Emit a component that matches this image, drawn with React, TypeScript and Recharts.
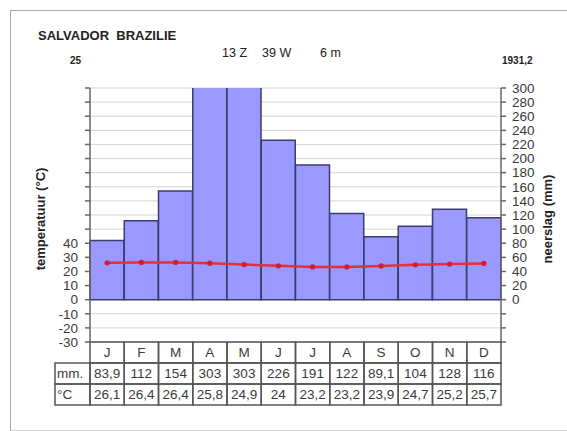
import React from "react";
import {
  ComposedChart,
  Bar,
  Line,
  XAxis,
  YAxis,
  CartesianGrid,
} from "recharts";

const months = ["J", "F", "M", "A", "M", "J", "J", "A", "S", "O", "N", "D"];
const precipitation = [83.9, 112, 154, 303, 303, 226, 191, 122, 89.1, 104, 128, 116];
const temperature = [26.1, 26.4, 26.4, 25.8, 24.9, 24, 23.2, 23.2, 23.9, 24.7, 25.2, 25.7];
const tempTicks = [-30, -20, -10, 0, 10, 20, 30, 40, 50, 60, 70, 80, 90, 100, 110, 120, 130, 140, 150];
const precTicks = [-60, -40, -20, 0, 20, 40, 60, 80, 100, 120, 140, 160, 180, 200, 220, 240, 260, 280, 300];
const rowLabels = ["mm.", "°C"];

const fmt = (v: number) => String(v).replace(".", ",");

const data = months.map((m, i) => ({
  key: i,
  month: m,
  mm: precipitation[i],
  t: temperature[i],
}));

const W = 567;
const H = 431;
const M_LEFT = 40;
const Y_W = 50;
const M_RIGHT = 16;
const M_TOP = 88;
const ROW_H = 21;
const M_BOTTOM = 26;
const PLOT_W = W - M_LEFT - Y_W - Y_W - M_RIGHT;
const CELL_W = PLOT_W / months.length;
const LABEL_W = 35;
const FONT = "'Liberation Sans', Arial, sans-serif";
const TXT = "#3a3a3a";
const BORDER = "#555";

const makeTick = (row: "month" | "mm" | "t") => (props: any) => {
  const { x, y, index } = props;
  const i = index as number;
  const label =
    row === "month" ? months[i] : row === "mm" ? fmt(precipitation[i]) : fmt(temperature[i]);
  const left = x - CELL_W / 2;
  return (
    <g>
      <rect x={left} y={y} width={CELL_W} height={ROW_H} fill="none" stroke={BORDER} strokeWidth={1.5} />
      <text x={x} y={y + ROW_H / 2} dy="0.36em" textAnchor="middle" fontSize={13.5} fill={TXT} fontFamily={FONT}>
        {label}
      </text>
      {i === 0 && row !== "month" ? (
        <g>
          <rect x={left - LABEL_W} y={y} width={LABEL_W} height={ROW_H} fill="none" stroke={BORDER} strokeWidth={1.5} />
          <text x={left - LABEL_W + 2} y={y + ROW_H / 2} dy="0.36em" textAnchor="start" fontSize={13.5} fill={TXT} fontFamily={FONT}>
            {row === "mm" ? rowLabels[0] : rowLabels[1]}
          </text>
        </g>
      ) : null}
    </g>
  );
};

export default function App() {
  return (
    <div style={{ position: "absolute", left: 0, top: 0, width: W, height: H, background: "#fff", fontFamily: FONT }}>
      <div
        style={{
          position: "absolute",
          left: 10,
          top: 10,
          width: W,
          height: 419,
          borderLeft: "1px solid #a8a8a8",
          borderTop: "1px solid #a8a8a8",
          borderBottom: "1px solid #d0d0d0",
        }}
      />
      <div style={{ position: "absolute", left: 0, top: 0 }}>
        <ComposedChart
          width={W}
          height={H}
          data={data}
          barCategoryGap={0}
          barGap={0}
          margin={{ top: M_TOP, right: M_RIGHT, bottom: M_BOTTOM, left: M_LEFT }}
        >
          <CartesianGrid vertical={false} stroke="#d4d4d4" xAxisId="m" yAxisId="t" horizontalValues={tempTicks} />
          <XAxis
            xAxisId="m"
            dataKey="key"
            type="category"
            height={ROW_H}
            interval={0}
            tickLine={false}
            axisLine={false}
            tickSize={0}
            tickMargin={0}
            tick={makeTick("month")}
          />
          <XAxis
            xAxisId="mm"
            dataKey="key"
            type="category"
            height={ROW_H}
            interval={0}
            tickLine={false}
            axisLine={false}
            tickSize={0}
            tickMargin={0}
            tick={makeTick("mm")}
          />
          <XAxis
            xAxisId="tt"
            dataKey="key"
            type="category"
            height={ROW_H}
            interval={0}
            tickLine={false}
            axisLine={false}
            tickSize={0}
            tickMargin={0}
            tick={makeTick("t")}
          />
          <YAxis
            yAxisId="t"
            orientation="left"
            width={Y_W}
            domain={[-30, 150]}
            ticks={tempTicks}
            interval={0}
            allowDataOverflow
            tickFormatter={(v: number) => (v <= 40 ? String(v) : "")}
            tickSize={5}
            tickMargin={7}
            stroke="#666"
            strokeWidth={1.5}
            tick={{ fontSize: 13.5, fill: TXT, fontFamily: FONT }}
          />
          <YAxis
            yAxisId="p"
            orientation="right"
            width={Y_W}
            domain={[-60, 300]}
            ticks={precTicks}
            interval={0}
            allowDataOverflow
            tickFormatter={(v: number) => (v >= 0 ? String(v) : "")}
            tickSize={5}
            tickMargin={6}
            stroke="#666"
            strokeWidth={1.5}
            tick={{ fontSize: 13.5, fill: TXT, fontFamily: FONT }}
          />
          <Bar
            xAxisId="m"
            yAxisId="p"
            dataKey="mm"
            fill="#9999ff"
            stroke="#3c3c6e"
            strokeWidth={1.5}
            isAnimationActive={false}
          />
          <Line
            xAxisId="m"
            yAxisId="t"
            dataKey="t"
            stroke="#e3303a"
            strokeWidth={2.5}
            dot={{ r: 1.4, fill: "#d02030", stroke: "#d02030" }}
            isAnimationActive={false}
          />
        </ComposedChart>
      </div>
      <svg
        width={W}
        height={H}
        style={{ position: "absolute", left: 0, top: 0, pointerEvents: "none" }}
        fontFamily={FONT}
      >
        <text x={38} y={40} fontSize={13} fontWeight="bold" fill="#222" style={{ whiteSpace: "pre" }}>
          {"SALVADOR  BRAZILIE"}
        </text>
        <text x={70} y={64} fontSize={10} fontWeight="bold" fill="#222">25</text>
        <text x={222} y={57} fontSize={12.5} fill="#222">13 Z</text>
        <text x={262} y={57} fontSize={12.5} fill="#222">39 W</text>
        <text x={320} y={57} fontSize={12.5} fill="#222">6 m</text>
        <text x={502} y={64} fontSize={10} fontWeight="bold" fill="#222">1931,2</text>
        <text
          x={40}
          y={219}
          transform="rotate(-90 40 219)"
          textAnchor="middle"
          dy="0.35em"
          fontSize={13}
          fontWeight="bold"
          fill="#222"
        >
          temperatuur (°C)
        </text>
        <text
          x={547}
          y={219}
          transform="rotate(-90 547 219)"
          textAnchor="middle"
          dy="0.35em"
          fontSize={13}
          fontWeight="bold"
          fill="#222"
        >
          neerslag (mm)
        </text>
      </svg>
    </div>
  );
}
